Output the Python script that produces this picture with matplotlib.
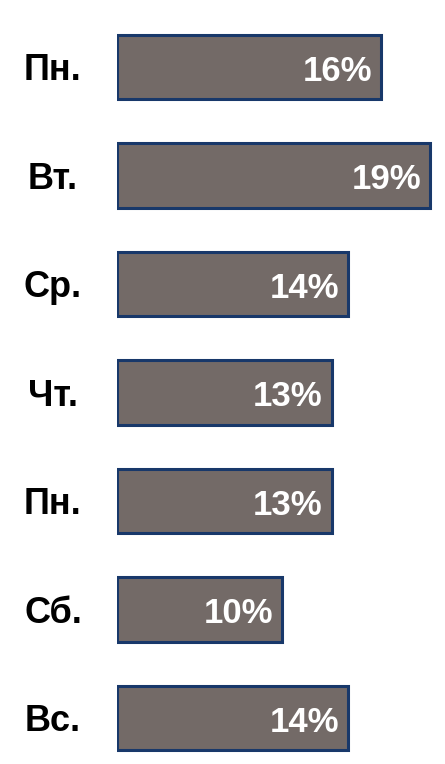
import matplotlib
matplotlib.use("Agg")
import matplotlib.pyplot as plt

# дни недели и доли
days = ["Пн.", "Вт.", "Ср.", "Чт.", "Пн.", "Сб.", "Вс."]
values = [16, 19, 14, 13, 13, 10, 14]
value_labels = ["16%", "19%", "14%", "13%", "13%", "10%", "14%"]

plt.rcParams['font.family'] = ['Liberation Sans', 'DejaVu Sans']

fig = plt.figure(figsize=(4.45, 7.64), dpi=100)
# ось начинается на 117.5 px, 16.47 px на 1%
ax = fig.add_axes([117.5 / 445, 0, 1 - 117.5 / 445, 1])
ax.set_xlim(0, (445 - 117.5) / 16.47)
ax.set_ylim((764 - 67) / 108.5, -67 / 108.5)
ax.axis('off')

pos = list(range(len(days)))
ax.barh(pos, values, height=0.59, color='#736a67', edgecolor='#18386a', linewidth=2.2)

for i in pos:
    ax.annotate(value_labels[i], (values[i], i), xytext=(-6.5, -10), textcoords='offset points',
                ha='right', va='baseline', color='white', fontsize=25, fontweight='bold',
                family=['Liberation Sans Narrow', 'Liberation Sans'])
    # подписи дней слева от столбцов
    ax.annotate(days[i], (0, i), xytext=(-(117.5 - 53) * 0.72, -9.5), textcoords='offset points',
                ha='center', va='baseline', color='black', fontsize=26, fontweight='bold',
                annotation_clip=False)

fig.savefig('out.png', dpi=100)
